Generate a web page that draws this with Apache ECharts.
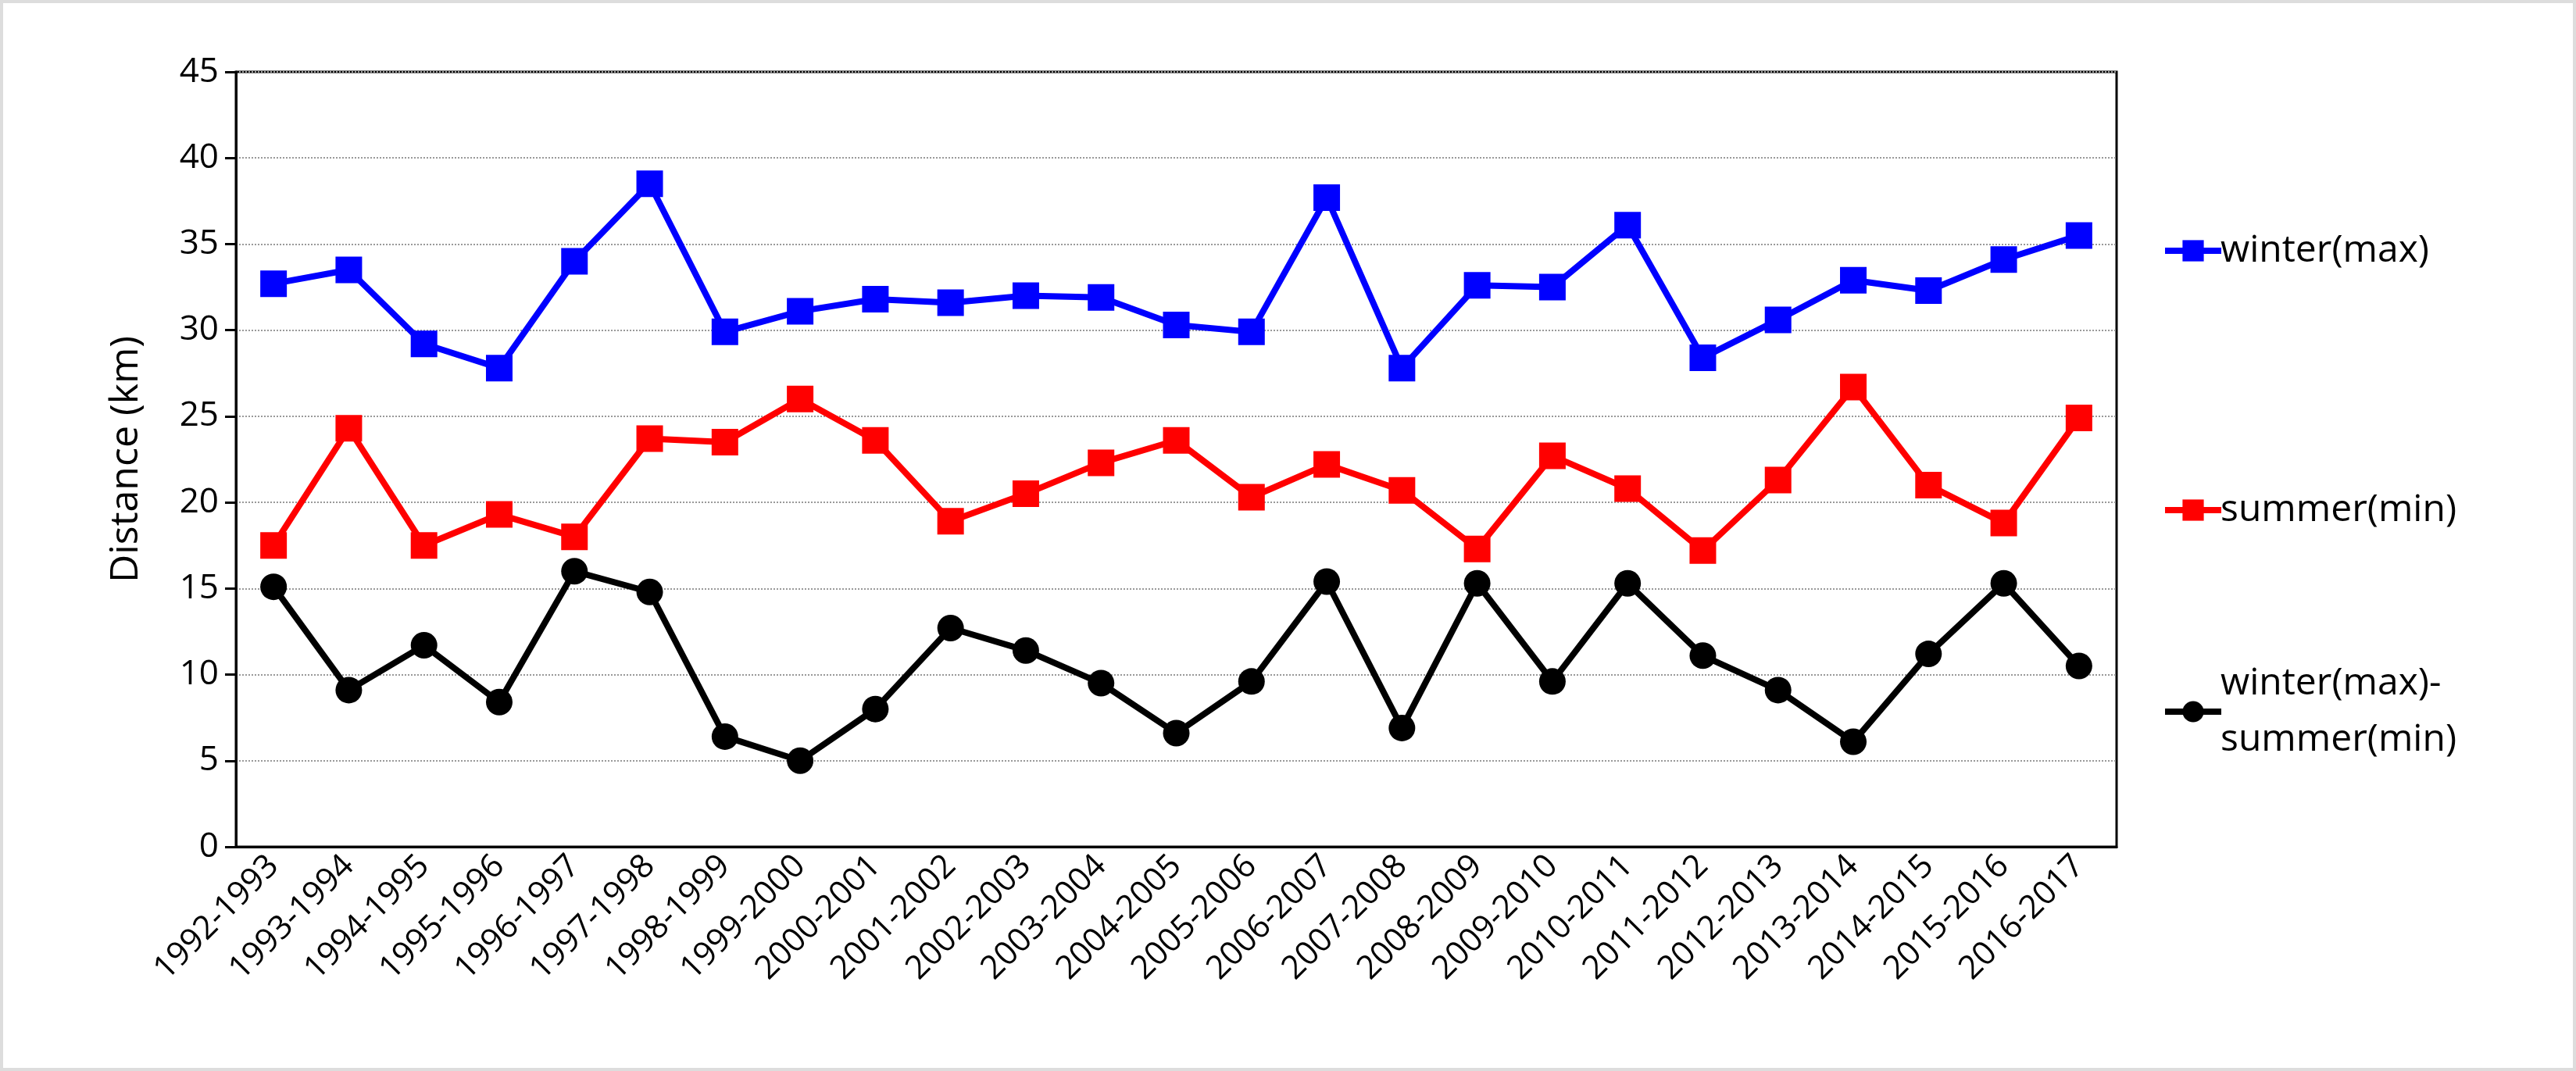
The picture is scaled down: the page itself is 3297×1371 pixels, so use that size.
<!DOCTYPE html><html><head><meta charset="utf-8"><script src="https://cdn.jsdelivr.net/npm/echarts@6/dist/echarts.min.js"></script></head><body style="margin:0;background:#fff">
<div id="c" style="width:3297px;height:1371px;box-sizing:border-box;border:4px solid #ddd"></div>
<script>
const categories=['1992-1993','1993-1994','1994-1995','1995-1996','1996-1997','1997-1998','1998-1999','1999-2000','2000-2001','2001-2002','2002-2003','2003-2004','2004-2005','2005-2006','2006-2007','2007-2008','2008-2009','2009-2010','2010-2011','2011-2012','2012-2013','2013-2014','2014-2015','2015-2016','2016-2017'];
const winterMax=[32.7,33.5,29.2,27.8,34,38.5,29.9,31.1,31.8,31.6,32,31.9,30.3,29.9,37.7,27.8,32.6,32.5,36.1,28.4,30.6,32.9,32.3,34.1,35.5];
const summerMin=[17.5,24.3,17.5,19.3,18,23.7,23.5,26,23.6,18.9,20.5,22.3,23.6,20.3,22.2,20.7,17.3,22.7,20.8,17.2,21.3,26.7,21,18.8,24.9];
const diff=[15.1,9.1,11.7,8.4,16,14.8,6.4,5,8,12.7,11.4,9.5,6.6,9.6,15.4,6.9,15.3,9.6,15.3,11.1,9.1,6.1,11.2,15.3,10.5];
const yTicks={min:0,max:45,interval:5};
const names=['winter(max)','summer(min)','winter(max)-\nsummer(min)'];
const ch=echarts.init(document.getElementById('c'));
const F='Open Sans, sans-serif';
function lg(n,top){return {data:[n],left:2758,top:top,itemWidth:72,itemHeight:34,itemGap:0,lineStyle:{width:8},textStyle:{fontSize:48,fontFamily:F,color:'#000',lineHeight:72,padding:[0,0,0,-6]}};}
function s(n,d,c,sym){return {name:n,type:'line',data:d,symbol:sym,symbolSize:34,itemStyle:{color:c},lineStyle:{color:c,width:8}};}
ch.setOption({
 animation:false,
 grid:{left:298,right:584,top:88,bottom:283,show:true,borderColor:'#000',borderWidth:3},
 legend:[lg(names[0],276),lg(names[1],608),lg(names[2],830)],
 xAxis:{type:'category',data:categories,boundaryGap:true,
  axisLine:{lineStyle:{color:'#000',width:3}},axisTick:{alignWithLabel:true,length:14,lineStyle:{color:'#000',width:3}},
  axisLabel:{rotate:45,fontSize:42,fontFamily:F,color:'#000',interval:0,margin:18}},
 yAxis:{type:'value',...yTicks,name:'Distance (km)',nameLocation:'middle',nameGap:115,nameTextStyle:{fontSize:50,fontFamily:F,color:'#000'},
  axisLine:{show:true,lineStyle:{color:'#000',width:3}},axisTick:{show:true,length:14,lineStyle:{color:'#000',width:3}},
  axisLabel:{fontSize:44,fontFamily:F,color:'#000',margin:22},
  splitLine:{lineStyle:{color:'#999',type:'dotted',width:2}}},
 series:[s(names[0],winterMax,'#0000ff','rect'),s(names[1],summerMin,'#ff0000','rect'),s(names[2],diff,'#000','circle')]
});
</script></body></html>
